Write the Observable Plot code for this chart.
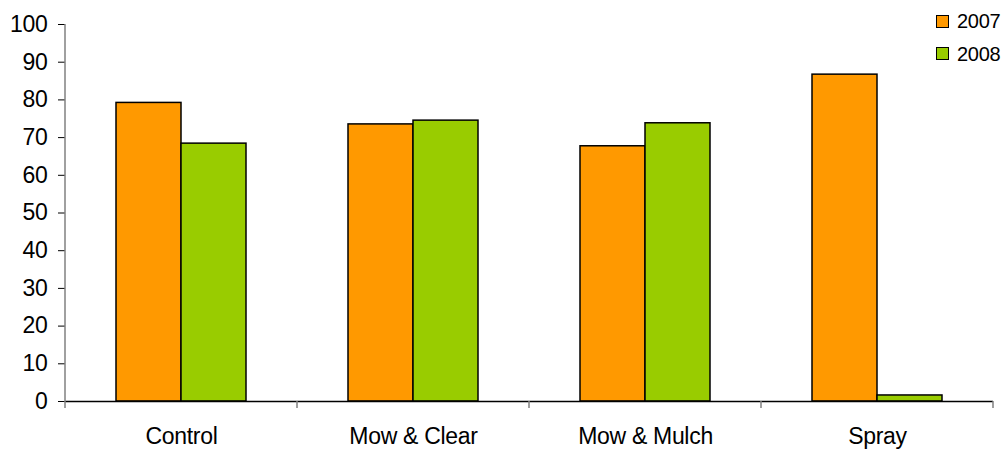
<!DOCTYPE html>
<html><head><meta charset="utf-8">
<script src="https://cdn.jsdelivr.net/npm/d3@7"></script>
<script src="https://cdn.jsdelivr.net/npm/@observablehq/plot@0.6"></script>
<style>
body{margin:0;background:#fff;font-family:"Liberation Sans",Arial,sans-serif;}
#chart{position:relative;width:1003px;height:449px;overflow:hidden;}
.lg{position:absolute;left:936px;display:flex;align-items:center;font-size:20px;line-height:20px;color:#000;letter-spacing:-0.3px;}
.lg span.sw{display:inline-block;width:11px;height:11px;border:1px solid #000;margin-right:8px;}
</style></head><body><div id="chart"></div>
<script>
const categories = ["Control", "Mow & Clear", "Mow & Mulch", "Spray"];
const years = ["2007", "2008"];
const values2007 = [79.2, 73.5, 67.7, 86.7];
const values2008 = [68.4, 74.5, 73.8, 1.6];
const yTicks = [0, 10, 20, 30, 40, 50, 60, 70, 80, 90, 100];
const colors = ["#FF9900", "#99CC00"];

const data = categories.flatMap((c, i) => [
  {category: c, year: years[0], value: values2007[i]},
  {category: c, year: years[1], value: values2008[i]}
]);

const plot = Plot.plot({
  width: 1003, height: 449,
  marginLeft: 64, marginRight: 10, marginTop: 24, marginBottom: 48,
  style: {fontFamily: "Liberation Sans, Arial, sans-serif", fontSize: "23px", color: "#000", background: "#fff"},
  fx: {domain: categories, padding: 0, label: null, axis: "bottom", tickSize: 0, tickPadding: 26},
  x: {domain: years, paddingInner: 0, paddingOuter: 0.76, axis: null},
  y: {domain: [0, 100], ticks: yTicks, tickSize: 7, tickPadding: 11, label: null},
  color: {domain: years, range: colors},
  marks: [
    Plot.barY(data, {fx: "category", x: "year", y: "value", fill: "year", stroke: "#000", strokeWidth: 1.5}),
    Plot.ruleY([0], {stroke: "#000", strokeWidth: 1.5})
  ]
});

const root = document.getElementById("chart");
root.appendChild(plot);

// axis line and category boundary ticks, positioned with the plot's own scales
const svg = d3.select(plot);
svg.selectAll("text").style("font-size", "23px").style("letter-spacing", "-0.3px");
const fx = plot.scale("fx");
const y = plot.scale("y");
const y0 = y.apply(0), y1 = y.apply(100);
const x0 = fx.apply(categories[0]);
svg.append("line").attr("x1", x0).attr("x2", x0).attr("y1", y1).attr("y2", y0)
  .attr("stroke", "#808080").attr("stroke-width", 1.5);
const edges = categories.map(c => fx.apply(c)).concat([fx.apply(categories[categories.length - 1]) + fx.bandwidth]);
edges.forEach(e => {
  svg.append("line").attr("x1", e).attr("x2", e).attr("y1", y0).attr("y2", y0 + 7)
    .attr("stroke", "#808080").attr("stroke-width", 1.5);
});

// legend
years.forEach((yr, i) => {
  const d = document.createElement("div");
  d.className = "lg";
  d.style.top = (11 + i * 32.5) + "px";
  d.innerHTML = `<span class="sw" style="background:${colors[i]}"></span>${yr}`;
  root.appendChild(d);
});
</script>
</body></html>
